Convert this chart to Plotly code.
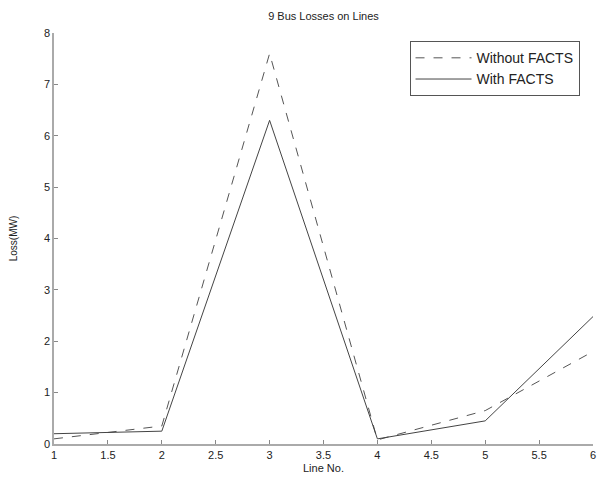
import plotly.graph_objects as go

line_no = [1, 2, 3, 4, 5, 6]
without_facts = [0.10, 0.35, 7.60, 0.08, 0.65, 1.80]
with_facts = [0.20, 0.25, 6.30, 0.10, 0.45, 2.48]

x_ticks = [1, 1.5, 2, 2.5, 3, 3.5, 4, 4.5, 5, 5.5, 6]
x_tick_labels = ["1", "1.5", "2", "2.5", "3", "3.5", "4", "4.5", "5", "5.5", "6"]
y_ticks = [0, 1, 2, 3, 4, 5, 6, 7, 8]

fig = go.Figure()
fig.add_trace(go.Scatter(x=line_no, y=without_facts, mode="lines", name="Without FACTS",
                         line=dict(color="#555555", width=1, dash="dash")))
fig.add_trace(go.Scatter(x=line_no, y=with_facts, mode="lines", name="With FACTS",
                         line=dict(color="#444444", width=1)))

font = "Liberation Sans, Arial, sans-serif"
# page body has an 8px margin; figure sized so the plot area lands where the reference has it
fig.update_layout(
    width=590, height=473,
    margin=dict(l=46, r=5, t=25, b=37, autoexpand=False),
    paper_bgcolor="white", plot_bgcolor="white",
    font=dict(family=font, size=11, color="#222222"),
    title=dict(text="9 Bus Losses on Lines", x=0.5, xref="paper", xanchor="center",
               y=0.983, yref="container", yanchor="middle",
               font=dict(size=11, color="#222222"), automargin=False),
    legend=dict(x=0.975, y=0.98, xanchor="right", yanchor="top",
                bordercolor="#555555", borderwidth=1, bgcolor="white",
                font=dict(size=14, color="#222222"), tracegroupgap=0,
                itemwidth=56),
    showlegend=True,
)
fig.update_xaxes(range=[1, 6], tickvals=x_ticks, ticktext=x_tick_labels, automargin=False,
                 showgrid=False, zeroline=False, showline=True, linecolor="#aaaaaa",
                 linewidth=1.5, ticks="inside", ticklen=4, tickcolor="#888888",
                 title=dict(text="Line No.", font=dict(size=11), standoff=4))
fig.update_yaxes(range=[0, 8], tickvals=y_ticks, automargin=False,
                 showgrid=False, zeroline=False, showline=True, linecolor="#aaaaaa",
                 linewidth=1.5, ticks="inside", ticklen=4, tickcolor="#888888",
                 title=dict(text="Loss(MW)", font=dict(size=10), standoff=30))

fig.write_html("out.html")
